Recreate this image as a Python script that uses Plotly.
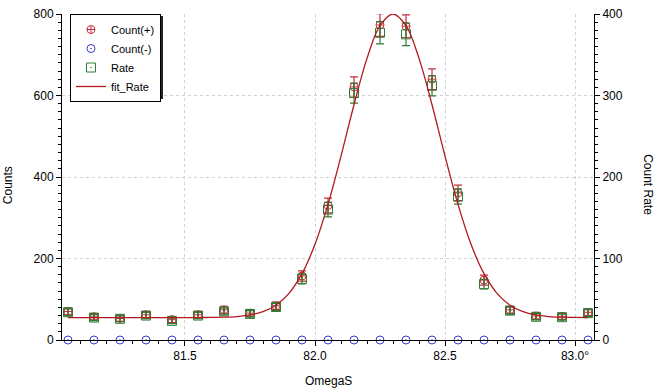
import plotly.graph_objects as go

# ---- data ----
omega = [81.05, 81.15, 81.25, 81.35, 81.45, 81.55, 81.65, 81.75, 81.85, 81.95,
         82.05, 82.15, 82.25, 82.35, 82.45, 82.55, 82.65, 82.75, 82.85, 82.95, 83.05]
count_plus = [70, 57, 53, 62, 50, 62, 74, 66, 84, 157,
              330, 621, 773, 770, 640, 361, 147, 74, 59, 58, 68]
count_plus_err = [8.4, 7.5, 7.3, 7.9, 7.1, 7.9, 8.6, 8.1, 9.2, 12.5,
                  18.2, 24.9, 27.8, 27.7, 25.3, 19.0, 12.1, 8.6, 7.7, 7.6, 8.2]
count_minus = [0] * 21
rate = [34, 27.5, 26, 30, 23.5, 30, 35, 32, 40.5, 75,
        160, 303, 377, 375, 312, 176, 68.5, 36, 28.5, 28, 33]
rate_err = [4.1, 3.7, 3.6, 3.9, 3.4, 3.9, 4.2, 4.0, 4.5, 6.1,
            8.9, 12.3, 13.7, 13.7, 12.5, 9.4, 5.9, 4.2, 3.8, 3.7, 4.1]

fit_x = [81.05, 81.10, 81.15, 81.20, 81.25, 81.30, 81.35, 81.40, 81.45, 81.50,
         81.55, 81.60, 81.65, 81.70, 81.75, 81.80, 81.85, 81.90, 81.95, 82.00,
         82.05, 82.10, 82.15, 82.20, 82.25, 82.30, 82.35, 82.40, 82.45, 82.50,
         82.55, 82.60, 82.65, 82.70, 82.75, 82.80, 82.85, 82.90, 82.95, 83.00, 83.05]
fit_rate = [27.5, 27.5, 27.5, 27.5, 27.5, 27.5, 27.5, 27.5, 27.5, 27.5,
            27.5, 27.7, 28.0, 28.8, 30.7, 34.7, 42.7, 57.3, 81.4, 117.5,
            166.4, 225.7, 288.7, 345.6, 385.6, 400.0, 385.6, 345.6, 288.7, 225.7,
            166.4, 117.5, 81.4, 57.3, 42.7, 34.7, 30.7, 28.8, 28.0, 27.7, 27.5]

x_label_alias = {"83.0": "83.0°"}

# ---- styling ----
RED = "#c0303c"
FIT = "#b3181e"
GREEN = "#2f7a33"
BLUE = "#3b3bc8"
GRID = "#d2d2d2"
FONT = "Liberation Sans"
XR = [81.027, 83.073]

fig = go.Figure()

fig.add_trace(go.Scatter(
    x=omega, y=count_plus, name="Count(+)", mode="markers",
    marker=dict(symbol="circle-cross-open", size=8, color=RED, line=dict(width=1)),
    error_y=dict(type="data", array=count_plus_err, color=RED, thickness=1.2, width=4),
    xaxis="x", yaxis="y"))
fig.add_trace(go.Scatter(
    x=omega, y=count_minus, name="Count(-)", mode="markers",
    marker=dict(symbol="circle-open-dot", size=8, color=BLUE, line=dict(width=1)),
    xaxis="x", yaxis="y", cliponaxis=False))
fig.add_trace(go.Scatter(
    x=omega, y=rate, name="Rate", mode="markers",
    marker=dict(symbol="square-open-dot", size=9, color=GREEN, line=dict(width=1)),
    error_y=dict(type="data", array=rate_err, color=GREEN, thickness=1.2, width=4),
    xaxis="x", yaxis="y2"))
fig.add_trace(go.Scatter(
    x=fit_x, y=fit_rate, name="fit_Rate", mode="lines",
    line=dict(color=FIT, width=1.3, shape="spline"),
    xaxis="x", yaxis="y2"))

common_tick = dict(tickfont=dict(family=FONT, size=12, color="black"), automargin=False)
xminor_out = dict(dtick=0.1, tick0=81.0, ticks="outside", ticklen=3, tickcolor="black", showgrid=False)
xminor_in = dict(dtick=0.1, tick0=81.0, ticks="inside", ticklen=3, tickcolor="black", showgrid=False)

fig.update_layout(
    width=656, height=388,
    margin=dict(l=62, r=62, t=14, b=48, autoexpand=False),
    paper_bgcolor="white", plot_bgcolor="white",
    font=dict(family=FONT, size=12, color="black"),
    showlegend=True,
    legend=dict(x=0.015, y=1.0, xanchor="left", yanchor="top",
                bgcolor="white", bordercolor="black", borderwidth=1,
                font=dict(family=FONT, size=11), itemwidth=30,
                tracegroupgap=0),
    shapes=[
        # legend drop shadow (legend box is drawn above it)
        dict(type="rect", xref="paper", yref="paper", layer="above",
             x0=0.0190, x1=0.1898, y0=0.7390, y1=0.9939,
             fillcolor="#202020", line=dict(width=0)),
    ],
    xaxis=dict(range=XR, tickmode="linear", tick0=81.0, dtick=0.5, tickformat=".1f",
               labelalias=x_label_alias,
               ticks="outside", ticklen=5, tickwidth=1, tickcolor="black",
               showline=True, linecolor="black", linewidth=1,
               showgrid=True, gridcolor=GRID, griddash="dot", gridwidth=1,
               zeroline=False, anchor="y", minor=xminor_out,
               **common_tick),
    xaxis2=dict(range=XR, overlaying="x", anchor="y", side="bottom",
                tickmode="linear", tick0=81.0, dtick=0.5, ticks="inside", ticklen=5,
                tickcolor="black", showticklabels=False, showgrid=False, zeroline=False,
                showline=False, minor=xminor_in),
    yaxis=dict(range=[0, 800], dtick=200, ticks="outside", ticklen=5, tickcolor="black",
               showline=True, linecolor="black", linewidth=1,
               showgrid=True, gridcolor=GRID, griddash="dot", gridwidth=1,
               zeroline=False, anchor="x",
               minor=dict(dtick=20, ticks="outside", ticklen=3, tickcolor="black", showgrid=False),
               **common_tick),
    yaxis2=dict(range=[0, 400], dtick=100, side="right", overlaying="y", anchor="x",
                ticks="outside", ticklen=5, tickcolor="black",
                showline=True, linecolor="black", linewidth=1,
                showgrid=False, zeroline=False,
                minor=dict(dtick=10, ticks="outside", ticklen=3, tickcolor="black", showgrid=False),
                **common_tick),
    yaxis3=dict(range=[0, 800], dtick=200, side="left", overlaying="y", anchor="x",
                ticks="inside", ticklen=5, tickcolor="black", showticklabels=False,
                showgrid=False, zeroline=False, showline=False,
                minor=dict(dtick=20, ticks="inside", ticklen=3, tickcolor="black", showgrid=False)),
    yaxis4=dict(range=[0, 400], dtick=100, side="right", overlaying="y", anchor="x",
                ticks="inside", ticklen=5, tickcolor="black", showticklabels=False,
                showgrid=False, zeroline=False, showline=False,
                minor=dict(dtick=10, ticks="inside", ticklen=3, tickcolor="black", showgrid=False)),
    annotations=[
        dict(text="Counts", xref="paper", yref="paper", x=-0.1015, y=0.475,
             xanchor="center", yanchor="middle",
             textangle=-90, showarrow=False, font=dict(family=FONT, size=12)),
        dict(text="Count Rate", xref="paper", yref="paper", x=1.1015, y=0.475,
             xanchor="center", yanchor="middle",
             textangle=90, showarrow=False, font=dict(family=FONT, size=12)),
        dict(text="OmegaS", xref="paper", yref="paper", x=0.5, y=-0.1258,
             xanchor="center", yanchor="middle",
             showarrow=False, font=dict(family=FONT, size=12)),
    ],
)

fig.write_html("out.html", config={"displayModeBar": False},
               post_script="document.body.style.margin='0';document.body.style.padding='0';")
